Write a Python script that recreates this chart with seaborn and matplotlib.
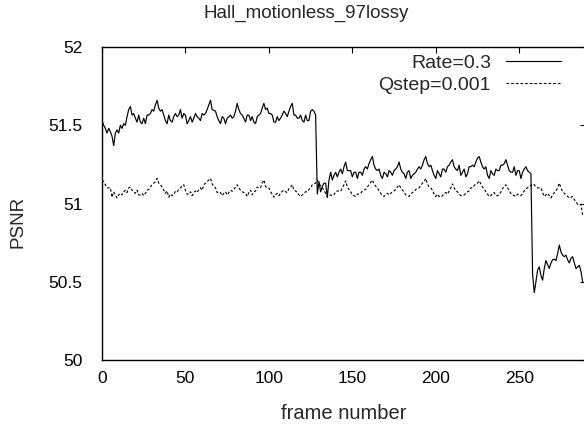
import numpy as np
import pandas as pd
import matplotlib
matplotlib.use('Agg')
import matplotlib.pyplot as plt
import seaborn as sns

# PSNR per frame
rate_psnr = [
    51.53, 51.50, 51.48, 51.45, 51.48, 51.46, 51.43, 51.37, 51.45, 51.47,
    51.45, 51.50, 51.48, 51.51, 51.50, 51.555, 51.60, 51.62, 51.565, 51.575,
    51.545, 51.52, 51.565, 51.52, 51.51, 51.545, 51.51, 51.565, 51.565, 51.575,
    51.60, 51.59, 51.63, 51.66, 51.61, 51.59, 51.60, 51.565, 51.53, 51.51,
    51.565, 51.53, 51.52, 51.555, 51.575, 51.555, 51.565, 51.60, 51.545, 51.575,
    51.565, 51.51, 51.53, 51.555, 51.52, 51.545, 51.575, 51.555, 51.545, 51.53,
    51.575, 51.565, 51.575, 51.60, 51.63, 51.66, 51.60, 51.595, 51.59, 51.555,
    51.53, 51.51, 51.555, 51.545, 51.51, 51.545, 51.555, 51.565, 51.545, 51.555,
    51.59, 51.64, 51.60, 51.575, 51.565, 51.545, 51.52, 51.565, 51.565, 51.53,
    51.555, 51.52, 51.51, 51.555, 51.565, 51.575, 51.61, 51.64, 51.60, 51.61,
    51.575, 51.575, 51.565, 51.52, 51.52, 51.555, 51.53, 51.545, 51.565, 51.59,
    51.575, 51.555, 51.59, 51.62, 51.64, 51.565, 51.565, 51.545, 51.545, 51.565,
    51.53, 51.52, 51.565, 51.53, 51.53, 51.59, 51.60, 51.59, 51.565, 51.06,
    51.14, 51.075, 51.11, 51.13, 51.13, 51.04, 51.15, 51.20, 51.15, 51.18,
    51.20, 51.17, 51.20, 51.22, 51.19, 51.235, 51.265, 51.21, 51.21, 51.21,
    51.17, 51.20, 51.20, 51.16, 51.20, 51.20, 51.18, 51.22, 51.235, 51.22,
    51.255, 51.28, 51.30, 51.245, 51.22, 51.21, 51.22, 51.18, 51.16, 51.20,
    51.19, 51.17, 51.21, 51.20, 51.18, 51.21, 51.22, 51.235, 51.265, 51.22,
    51.20, 51.19, 51.16, 51.20, 51.21, 51.16, 51.18, 51.19, 51.20, 51.22,
    51.235, 51.22, 51.245, 51.28, 51.30, 51.255, 51.235, 51.245, 51.21, 51.18,
    51.16, 51.21, 51.19, 51.17, 51.22, 51.22, 51.20, 51.235, 51.245, 51.265,
    51.28, 51.235, 51.22, 51.21, 51.245, 51.18, 51.20, 51.22, 51.17, 51.19,
    51.235, 51.235, 51.245, 51.235, 51.265, 51.29, 51.30, 51.265, 51.235, 51.22,
    51.235, 51.18, 51.16, 51.21, 51.19, 51.18, 51.22, 51.21, 51.21, 51.245,
    51.245, 51.255, 51.28, 51.245, 51.21, 51.20, 51.20, 51.235, 51.18, 51.21,
    51.21, 51.16, 51.20, 51.22, 51.235, 51.21, 51.20, 51.19, 50.55, 50.43,
    50.50, 50.575, 50.595, 50.54, 50.51, 50.585, 50.635, 50.61, 50.585, 50.62,
    50.64, 50.645, 50.635, 50.68, 50.735, 50.69, 50.67, 50.66, 50.67, 50.64,
    50.62, 50.65, 50.66, 50.62, 50.585, 50.595, 50.605, 50.565, 50.50,
]
qstep_psnr = [
    51.15, 51.14, 51.12, 51.10, 51.10, 51.10, 51.04, 51.075, 51.055, 51.035,
    51.055, 51.065, 51.055, 51.075, 51.085, 51.07, 51.10, 51.105, 51.085, 51.075,
    51.065, 51.085, 51.055, 51.055, 51.065, 51.05, 51.065, 51.085, 51.09, 51.105,
    51.12, 51.13, 51.14, 51.16, 51.13, 51.12, 51.105, 51.085, 51.065, 51.08,
    51.04, 51.06, 51.05, 51.055, 51.08, 51.075, 51.09, 51.10, 51.11, 51.12,
    51.085, 51.06, 51.06, 51.075, 51.05, 51.07, 51.08, 51.07, 51.09, 51.10,
    51.085, 51.12, 51.13, 51.14, 51.15, 51.16, 51.125, 51.11, 51.10, 51.07,
    51.075, 51.07, 51.05, 51.065, 51.075, 51.055, 51.07, 51.085, 51.078, 51.09,
    51.105, 51.12, 51.10, 51.085, 51.075, 51.07, 51.065, 51.045, 51.07, 51.085,
    51.055, 51.075, 51.08, 51.105, 51.10, 51.10, 51.13, 51.15, 51.11, 51.10,
    51.10, 51.075, 51.06, 51.04, 51.055, 51.065, 51.05, 51.065, 51.078, 51.085,
    51.075, 51.07, 51.095, 51.105, 51.12, 51.085, 51.08, 51.07, 51.055, 51.045,
    51.055, 51.065, 51.075, 51.075, 51.09, 51.10, 51.12, 51.125, 51.13, 51.15,
    51.13, 51.11, 51.10, 51.085, 51.065, 51.04, 51.05, 51.055, 51.05, 51.055,
    51.075, 51.08, 51.08, 51.078, 51.10, 51.12, 51.145, 51.105, 51.09, 51.075,
    51.055, 51.05, 51.045, 51.06, 51.06, 51.065, 51.08, 51.085, 51.09, 51.105,
    51.12, 51.135, 51.15, 51.125, 51.11, 51.10, 51.08, 51.065, 51.05, 51.045,
    51.055, 51.065, 51.055, 51.065, 51.075, 51.08, 51.09, 51.105, 51.12, 51.10,
    51.085, 51.075, 51.055, 51.05, 51.045, 51.06, 51.07, 51.075, 51.09, 51.095,
    51.10, 51.115, 51.13, 51.14, 51.16, 51.125, 51.105, 51.10, 51.085, 51.06,
    51.045, 51.06, 51.045, 51.04, 51.05, 51.065, 51.07, 51.06, 51.08, 51.10,
    51.125, 51.10, 51.08, 51.075, 51.06, 51.05, 51.05, 51.055, 51.065, 51.075,
    51.08, 51.10, 51.10, 51.115, 51.125, 51.13, 51.145, 51.125, 51.105, 51.095,
    51.075, 51.06, 51.045, 51.05, 51.065, 51.07, 51.05, 51.05, 51.055, 51.075,
    51.095, 51.11, 51.12, 51.10, 51.08, 51.065, 51.055, 51.05, 51.045, 51.06,
    51.055, 51.05, 51.065, 51.08, 51.095, 51.10, 51.11, 51.115, 51.125, 51.12,
    51.105, 51.10, 51.10, 51.10, 51.07, 51.045, 51.055, 51.065, 51.05, 51.035,
    51.055, 51.07, 51.08, 51.10, 51.13, 51.10, 51.075, 51.065, 51.055, 51.045,
    51.035, 51.04, 51.045, 51.025, 51.01, 50.995, 50.99, 50.995, 50.925,
]
series_names = ['Rate=0.3', 'Qstep=0.001']
x_ticks = [0, 50, 100, 150, 200, 250]
y_ticks = [50, 50.5, 51, 51.5, 52]
y_tick_labels = ['50', '50.5', '51', '51.5', '52']

frames = np.arange(len(rate_psnr))
df = pd.DataFrame({'frame': frames, 'rate': rate_psnr, 'qstep': qstep_psnr})

sns.set_style('white')
plt.rcParams['font.family'] = ['Liberation Sans', 'DejaVu Sans']

W, H = 584, 426
fig = plt.figure(figsize=(W / 100, H / 100), dpi=100)
ax = fig.add_axes([102 / W, (H - 360) / H, 484 / W, 313 / H])

sns.lineplot(data=df, x='frame', y='rate', ax=ax, color='black', lw=0.85,
             estimator=None, label=series_names[0])
sns.lineplot(data=df, x='frame', y='qstep', ax=ax, color='black', lw=0.8,
             estimator=None, label=series_names[1], linestyle=(0, (2.4, 1.8)))

ax.set_xlim(0, 290)
ax.set_ylim(50, 52)
ax.set_xticks(x_ticks)
ax.set_xticklabels([str(t) for t in x_ticks])
ax.set_yticks(y_ticks)
ax.set_yticklabels(y_tick_labels)
ax.tick_params(direction='in', length=4.5, width=0.8, top=True, right=True,
               labelsize=12.5, color='black', labelcolor='black')
ax.tick_params(axis='y', pad=14)
ax.tick_params(axis='x', pad=8)
for s in ax.spines.values():
    s.set_color('black')
    s.set_linewidth(1.0)

ax.set_xlabel('frame number', fontsize=14.5)
ax.set_ylabel('PSNR', fontsize=13.5)
ax.xaxis.set_label_coords(0.5, -0.14)
ax.yaxis.set_label_coords(-0.155, 0.44)

fig.text(306 / W, (H - 13) / H, 'Hall_motionless_97lossy', ha='center',
         va='center', fontsize=13.5)

ax.legend(loc='upper right', bbox_to_anchor=(561 / W, (H - 54) / H),
          bbox_transform=fig.transFigure, frameon=False, markerfirst=False,
          borderpad=0, borderaxespad=0, handlelength=2.85, handletextpad=0.75,
          labelspacing=0.25, fontsize=14)

fig.savefig('out.png', dpi=100)
